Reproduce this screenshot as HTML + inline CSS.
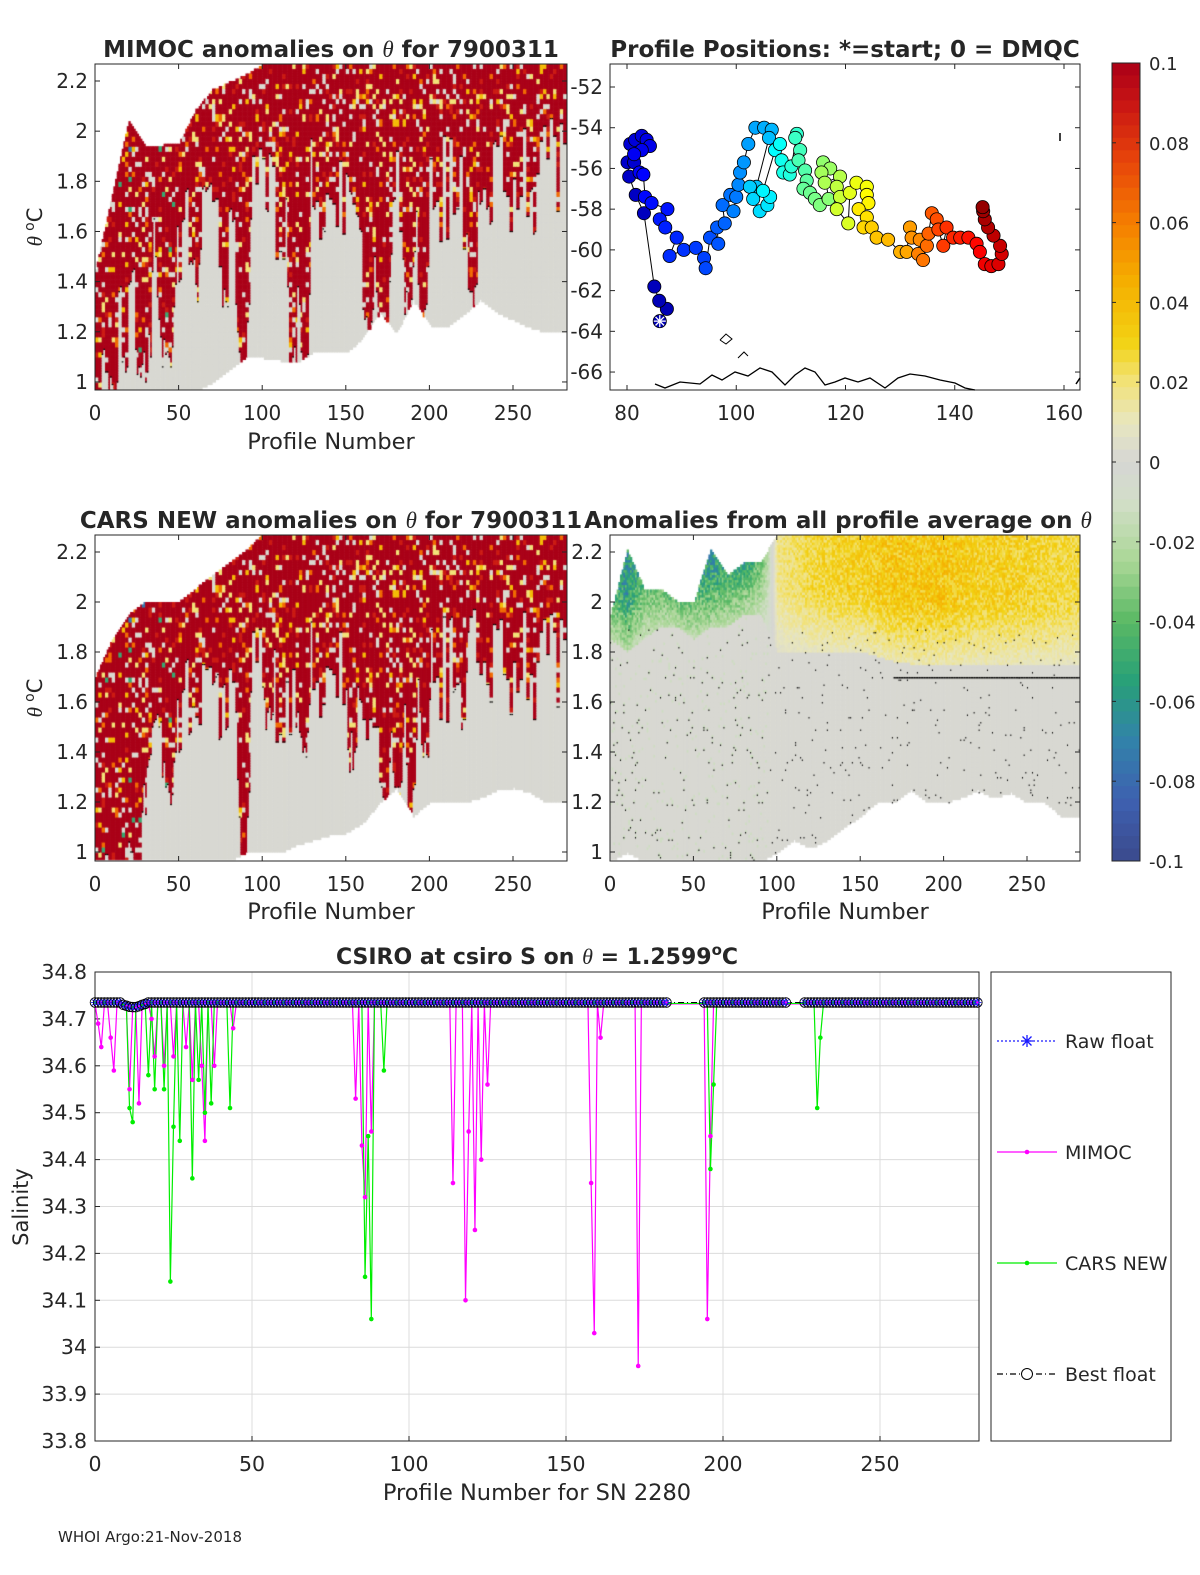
<!DOCTYPE html>
<html><head><meta charset="utf-8">
<style>
body{margin:0;background:#fff;width:1200px;height:1575px;overflow:hidden;font-family:"Liberation Sans","DejaVu Sans",sans-serif}
#wrap{position:relative;width:1200px;height:1575px}
canvas{position:absolute;left:0;top:0}
svg{position:absolute;left:0;top:0}
text{font-family:"DejaVu Sans","Liberation Sans",sans-serif;fill:#262626}
</style></head><body>
<div id="wrap">
<canvas id="heat" width="1200" height="1575"></canvas>
<svg id="svg" width="1200" height="1575"></svg>
</div>
<script>
// ---------- DATA ----------
const binProfiles=[0,10,20,30,40,50,60,70,80,90,100,110,120,130,140,150,160,170,180,190,200,210,220,230,240,250,260,270,280];
// MIMOC panel
const mimTop=[1.45,1.75,2.04,1.94,1.94,1.95,2.08,2.16,2.19,2.22,2.26,2.27,2.27,2.27,2.27,2.27,2.27,2.27,2.27,2.27,2.27,2.27,2.27,2.27,2.27,2.27,2.27,2.27,2.27];
const mimBot=[0.97,0.97,0.97,0.97,0.97,0.97,0.97,1.0,1.05,1.1,1.1,1.09,1.08,1.12,1.12,1.12,1.18,1.28,1.2,1.33,1.23,1.22,1.27,1.33,1.28,1.25,1.22,1.2,1.2];
const mimRed=[1.0,1.2,1.4,1.5,1.55,1.7,1.75,1.8,1.75,1.8,1.85,1.8,1.8,1.85,1.8,1.8,1.75,1.75,1.8,1.75,1.8,1.85,1.85,1.85,1.9,1.9,1.9,1.95,1.95];
const mimStreakStart=[6,24,36,58,76,84,115,122,160,168,184,193,222];
const mimStreakEnd=[12,34,48,62,79,92,121,128,166,176,190,199,228];
const mimStreakBottom=[1.0,1.1,1.15,1.45,1.35,1.05,1.08,1.1,1.25,1.2,1.35,1.25,1.32];
// CARS panel
const carTop=[1.7,1.85,1.95,2.0,2.0,2.0,2.05,2.1,2.15,2.2,2.27,2.27,2.27,2.27,2.27,2.27,2.27,2.27,2.27,2.27,2.27,2.27,2.27,2.27,2.27,2.27,2.27,2.27,2.27];
const carBot=[0.97,0.97,0.97,0.97,0.97,0.97,0.97,0.97,0.97,1.0,1.0,1.0,1.03,1.05,1.07,1.08,1.12,1.2,1.26,1.15,1.2,1.2,1.2,1.22,1.25,1.26,1.24,1.2,1.2];
const carRed=[1.0,1.0,1.1,1.3,1.5,1.7,1.75,1.75,1.8,1.8,1.8,1.75,1.75,1.8,1.8,1.8,1.75,1.75,1.75,1.75,1.8,1.8,1.85,1.85,1.85,1.85,1.85,1.85,1.85];
const carStreakStart=[0,40,85,100,120,150,170,178,186,195,218];
const carStreakEnd=[30,48,92,106,128,156,176,184,192,200,222];
const carStreakBottom=[1.0,1.3,0.97,1.55,1.5,1.45,1.2,1.25,1.2,1.4,1.6];
// all-profile average panel
const avgTop=[1.95,2.2,2.05,2.05,2.0,2.0,2.2,2.1,2.15,2.15,2.27,2.27,2.27,2.27,2.27,2.27,2.27,2.27,2.27,2.27,2.27,2.27,2.27,2.27,2.27,2.27,2.27,2.27,2.27];
const avgBot=[0.97,1.0,0.97,0.97,0.97,0.97,0.97,0.97,0.97,0.97,1.0,1.05,1.02,1.05,1.1,1.15,1.2,1.2,1.25,1.2,1.2,1.22,1.25,1.22,1.24,1.2,1.2,1.15,1.15];
const avgTopVal=[-0.06,-0.07,-0.05,-0.06,-0.07,-0.06,-0.07,-0.06,-0.07,-0.05,0.02,0.025,0.03,0.032,0.035,0.035,0.038,0.04,0.04,0.04,0.04,0.038,0.035,0.035,0.035,0.033,0.032,0.03,0.03];
const avgTrans=[1.85,1.8,1.85,1.9,1.9,1.85,1.9,1.9,1.95,1.95,1.8,1.8,1.8,1.8,1.8,1.8,1.78,1.76,1.75,1.75,1.75,1.75,1.75,1.75,1.75,1.75,1.75,1.75,1.75];
// map track
const trackLon=[86.0,87.3,85.9,85.0,83.1,81.6,80.4,80.1,81.3,80.6,81.5,82.7,83.6,84.2,82.7,81.3,82.3,83.0,83.3,84.5,87.4,86.0,87.0,89.1,87.8,90.4,92.6,94.1,94.4,95.2,96.7,96.5,97.9,97.5,98.9,100.0,99.5,100.4,100.7,101.4,102.2,103.5,105.1,106.5,106.0,103.7,102.5,103.1,104.3,105.7,106.2,104.9,107.1,108.0,108.3,108.6,109.8,110.1,111.1,110.8,111.7,111.4,112.6,112.9,112.3,113.5,114.4,115.3,116.9,115.9,117.2,115.6,116.2,119.0,118.4,119.0,118.4,120.5,120.8,122.0,123.9,123.9,124.2,122.4,123.9,123.3,124.8,125.7,127.8,130.0,131.2,131.8,132.1,133.6,133.3,134.2,134.9,135.2,135.8,136.7,137.0,137.9,138.5,139.7,141.0,142.5,144.0,144.6,145.5,146.7,148.0,148.6,148.3,147.1,146.1,145.5,145.2,145.1];
const trackLat=[-63.5,-62.9,-62.5,-61.8,-58.2,-57.3,-56.4,-55.7,-55.7,-54.8,-54.6,-54.4,-54.6,-54.9,-55.1,-55.3,-56.2,-56.3,-57.4,-57.7,-58.0,-58.5,-58.9,-59.4,-60.3,-60.0,-59.9,-60.4,-60.9,-59.4,-59.7,-58.9,-58.7,-57.8,-57.3,-57.4,-58.1,-56.8,-56.2,-55.7,-54.8,-54.0,-54.0,-54.1,-54.5,-56.9,-56.9,-57.5,-58.1,-57.8,-57.4,-57.1,-55.1,-54.8,-55.6,-56.2,-56.3,-55.9,-54.3,-54.5,-55.1,-55.6,-56.1,-56.6,-57.0,-57.2,-57.5,-57.8,-57.5,-55.7,-56.0,-56.2,-56.7,-56.4,-56.9,-57.4,-58.0,-58.7,-57.2,-56.7,-56.9,-57.3,-57.7,-58.0,-58.4,-58.9,-58.9,-59.4,-59.5,-60.1,-60.1,-58.9,-59.4,-59.5,-60.2,-60.5,-59.8,-59.2,-58.2,-58.5,-59.0,-59.8,-58.9,-59.4,-59.4,-59.4,-59.7,-60.1,-60.7,-60.8,-60.7,-60.2,-59.8,-59.3,-58.9,-58.5,-58.1,-57.9];
// salinity panel
const salBase=34.735;
const gapProfiles=[183,184,185,186,187,188,189,190,191,192,193,221,222,223,224,225];
const bestDipProfiles=[9,10,11,12,13,14,15,16];
const bestDipValues=[34.73,34.728,34.726,34.725,34.725,34.727,34.73,34.732];
const mimocSpikeP=[1,2,5,6,11,14,18,19,22,25,29,31,34,35,38,44,83,85,86,88,114,118,119,121,123,125,158,159,161,173,195,196];
const mimocSpikeV=[34.69,34.64,34.66,34.59,34.55,34.52,34.70,34.62,34.60,34.62,34.64,34.57,34.60,34.44,34.60,34.68,34.53,34.43,34.32,34.46,34.35,34.10,34.46,34.25,34.40,34.56,34.35,34.03,34.66,33.96,34.06,34.45];
const carsSpikeP=[11,12,17,19,22,24,25,27,31,33,35,37,43,86,87,88,92,196,197,230,231];
const carsSpikeV=[34.51,34.48,34.58,34.55,34.55,34.14,34.47,34.44,34.36,34.57,34.50,34.52,34.51,34.15,34.45,34.06,34.59,34.38,34.56,34.51,34.66];
const salTicks=[33.8,33.9,34,34.1,34.2,34.3,34.4,34.5,34.6,34.7,34.8];
const profTicks=[0,50,100,150,200,250];
const thetaTicks=[1,1.2,1.4,1.6,1.8,2,2.2];
const latTicks=[-52,-54,-56,-58,-60,-62,-64,-66];
const lonTicks=[80,100,120,140,160];
const cbTicks=[0.1,0.08,0.06,0.04,0.02,0,-0.02,-0.04,-0.06,-0.08,-0.1];

// ---------- helpers ----------
const NS='http://www.w3.org/2000/svg';
const svg=document.getElementById('svg');
function mk(tag,attrs,parent){const e=document.createElementNS(NS,tag);for(const k in attrs)e.setAttribute(k,attrs[k]);(parent||svg).appendChild(e);return e;}
function txt(x,y,s,size,anchor,extra){const t=mk('text',Object.assign({x:x,y:y,'font-size':size,'text-anchor':anchor||'middle'},extra||{}));t.textContent=s;return t;}
const cmap=[[-0.1,[59,74,140]],[-0.085,[62,96,176]],[-0.07,[50,130,170]],[-0.055,[40,160,120]],[-0.04,[90,185,100]],[-0.025,[170,215,150]],[-0.01,[210,222,200]],[0,[214,214,212]],[0.01,[232,230,190]],[0.02,[242,226,120]],[0.03,[242,210,20]],[0.045,[245,175,0]],[0.06,[245,125,0]],[0.075,[232,70,10]],[0.09,[200,20,20]],[0.1,[170,0,24]]];
function col(v){v=Math.max(-0.1,Math.min(0.1,v));for(let i=1;i<cmap.length;i++){if(v<=cmap[i][0]){const a=cmap[i-1],b=cmap[i],t=(v-a[0])/(b[0]-a[0]);return 'rgb('+a[1].map((c,k)=>Math.round(c+(b[1][k]-c)*t)).join(',')+')';}}return 'rgb(170,0,24)';}
function interp(arr,p){const f=p/10,i=Math.min(Math.floor(f),arr.length-2),t=f-i;return arr[i]+(arr[i+1]-arr[i])*t;}
function hash(i,j){let h=(i*374761393+j*668265263)>>>0;h=((h^(h>>>13))*1274126177)>>>0;return (h^(h>>>16))%100;}

const ctx=document.getElementById('heat').getContext('2d');
function axesBox(x,y,w,h,name){mk('rect',{x:x,y:y,width:w,height:h,fill:'none',stroke:'#262626','stroke-width':1});}

// ---------- anomaly heatmaps ----------
function drawAnom(L,T,W,H,sx,yOf,tops,bots,reds,sS,sE,sB){
  ctx.save();ctx.beginPath();ctx.rect(L,T,W,H);ctx.clip();
  for(let p=0;p<=281;p++){
    const top=interp(tops,p),bot=interp(bots,p);
    let red=interp(reds,p)+((hash(Math.floor(p/2),7)%20)-8)*0.012;
    for(let k=0;k<sS.length;k++){
      if(p>=sS[k]&&p<=sE[k]){const mid=(sS[k]+sE[k])/2,half=(sE[k]-sS[k])/2+1;const d=Math.abs(p-mid)/half;
        const b=sB[k]+(red-sB[k])*Math.pow(d,3)+((hash(p,11)%10)-5)*0.01;red=Math.min(red,b);}
    }
    const x0=L+p*sx;
    let prevRed=null;
    for(let th=Math.floor(bot*100)/100;th<top;th+=0.01){
      const h=hash(Math.floor(p/2),Math.floor(th*50));
      let v;
      const isRed=th>red;
      if(isRed){
        v=h<50?0.1:h<60?0.088:h<67?0.065:h<73?0.04:h<90?0.002:0.02;
        if(p<50&&h>95)v=-0.05;
        if(p<35&&th>1.9&&h>88)v=-0.075;
      }else v=0.001;
      ctx.fillStyle=col(v);
      const y1=yOf(th+0.01),y0=yOf(th);
      ctx.fillRect(x0,y1,sx+0.6,y0-y1+0.6);
      if(prevRed!==null&&isRed!==prevRed){ctx.fillStyle='#000';ctx.fillRect(x0,y0-0.6,sx+0.6,1.2);}
      prevRed=isRed;
    }
  }
  ctx.restore();
}
const y1of=th=>81+(2.2-th)*250.8;
const y3of=th=>552+(2.2-th)*250;
drawAnom(95,64,472,326,1.672,y1of,mimTop,mimBot,mimRed,mimStreakStart,mimStreakEnd,mimStreakBottom);
drawAnom(95,535,472,326,1.672,y3of,carTop,carBot,carRed,carStreakStart,carStreakEnd,carStreakBottom);
// average panel
(function(){
  const L=610,T=535,W=470,H=326,sx=1.668;
  ctx.save();ctx.beginPath();ctx.rect(L,T,W,H);ctx.clip();
  for(let p=0;p<=281;p++){
    const top=interp(avgTop,p),bot=interp(avgBot,p),tv=interp(avgTopVal,p),tr=interp(avgTrans,p);
    for(let th=Math.floor(bot*100)/100;th<top;th+=0.01){
      const h=hash(p,Math.round(th*100));
      let v=0.001;
      if(th>tr){const f=Math.min(1,(th-tr)/0.25);v=tv*(0.35+0.65*f)*(0.85+h*0.003);}
      else if(p<95&&h>90)v=-0.012;
      ctx.fillStyle=col(v);
      const y1=y3of(th+0.01),y0=y3of(th);
      ctx.fillRect(L+p*sx,y1,sx+0.6,y0-y1+0.6);
      if(h>95&&th<1.9){ctx.fillStyle='#000';ctx.fillRect(L+p*sx,y0,1,1.5);}
    }
  }
  ctx.fillStyle='#000';
  for(let p=170;p<=281;p++){ctx.fillRect(L+p*sx,y3of(1.7),sx,1.5);}
  ctx.restore();
})();

function heatAxes(L,T,W,H,sx,yOf,prefix){
  axesBox(L,T,W,H,prefix+'-axes');
  profTicks.forEach(p=>{const x=L+p*sx;mk('line',{x1:x,y1:T+H,x2:x,y2:T+H-5,stroke:'#262626'});mk('line',{x1:x,y1:T,x2:x,y2:T+5,stroke:'#262626'});
    const t=txt(x,T+H+30,String(p),20);});
  thetaTicks.forEach(th=>{const y=yOf(th);mk('line',{x1:L,y1:y,x2:L+5,y2:y,stroke:'#262626'});mk('line',{x1:L+W,y1:y,x2:L+W-5,y2:y,stroke:'#262626'});
    const t=txt(L-7,y+7,String(th),20,'end');});
}
heatAxes(95,64,472,326,1.672,y1of,'mimoc');
heatAxes(95,535,472,326,1.672,y3of,'cars');
heatAxes(610,535,470,326,1.668,y3of,'average');

function label(x,y,s,size,name,extra){const t=txt(x,y,s,size,'middle',extra);return t;}
function titleTheta(x,y,pre,post,name){const t=mk('text',{x:x,y:y,'font-size':23,'text-anchor':'middle','font-weight':'bold'});
  const a=mk('tspan',{},t);a.textContent=pre;const b=mk('tspan',{'font-style':'italic','font-weight':'normal','font-family':'Liberation Serif,serif'},t);b.textContent='θ';const c=mk('tspan',{},t);c.textContent=post;}
titleTheta(331,57,'MIMOC anomalies on ','  for 7900311','mimoc-title');
label(845,57,'Profile Positions: *=start; 0 = DMQC',23,'map-title',{'font-weight':'bold'});
titleTheta(331,528,'CARS NEW anomalies on ',' for 7900311','cars-title');
titleTheta(838,528,'Anomalies from all profile average on ','','average-title');
label(331,449,'Profile Number',22.5,'mimoc-x-axis-title');
label(331,919,'Profile Number',22.5,'cars-x-axis-title');
label(845,919,'Profile Number',22.5,'average-x-axis-title');
[[227,'mimoc-y-axis-title'],[698,'cars-y-axis-title']].forEach(([cy,n])=>{const t=mk('text',{x:0,y:0,'font-size':21,'text-anchor':'middle',transform:'translate(42,'+cy+') rotate(-90)'});
  const a=mk('tspan',{'font-style':'italic','font-family':'Liberation Serif,serif'},t);a.textContent='θ ';const b=mk('tspan',{dy:-8,'font-size':14},t);b.textContent='o';const c=mk('tspan',{dy:8},t);c.textContent='C';});

// ---------- map ----------
(function(){
  const L=610,T=64,W=470,H=326;
  const xOf=lon=>627+(lon-80)*5.4625, yOf=lat=>87+(-52-lat)*20.36;
  axesBox(L,T,W,H,'map-axes');
  lonTicks.forEach(v=>{const x=xOf(v);mk('line',{x1:x,y1:T+H,x2:x,y2:T+H-5,stroke:'#262626'});mk('line',{x1:x,y1:T,x2:x,y2:T+5,stroke:'#262626'});
    const t=txt(x,T+H+30,String(v),20);});
  latTicks.forEach(v=>{const y=yOf(v);mk('line',{x1:L,y1:y,x2:L+5,y2:y,stroke:'#262626'});mk('line',{x1:L+W,y1:y,x2:L+W-5,y2:y,stroke:'#262626'});
    const t=txt(L-7,y+7,String(v),20,'end');});
  const coast=mk('polyline',{points:'655,384 665,388 680,382 700,384 712,375 722,380 735,372 748,376 760,368 772,372 785,385 795,375 805,368 815,372 825,385 835,382 845,378 858,382 870,378 885,388 898,378 910,374 925,376 940,380 955,383 965,388 975,390',fill:'none',stroke:'#000','stroke-width':1.3});
  
  mk('polyline',{points:'720,340 726,334 732,339 726,344 720,340',fill:'none',stroke:'#000','stroke-width':1});
  mk('polyline',{points:'738,358 744,352 748,356',fill:'none',stroke:'#000','stroke-width':1});
  mk('line',{x1:1060,y1:133,x2:1060,y2:141,stroke:'#000','stroke-width':1.5});
  mk('polyline',{points:'1076,384 1080,378',fill:'none',stroke:'#000','stroke-width':1.5});
  const pts=trackLon.map((lo,i)=>xOf(lo)+','+yOf(trackLat[i])).join(' ');
  const tl=mk('polyline',{points:pts,fill:'none',stroke:'#000','stroke-width':1});
  
  const n=trackLon.length;
  const jet=f=>{const r=Math.max(0,Math.min(1,1.5-Math.abs(4*f-3))),g=Math.max(0,Math.min(1,1.5-Math.abs(4*f-2))),b=Math.max(0,Math.min(1,1.5-Math.abs(4*f-1)));return 'rgb('+Math.round(r*255)+','+Math.round(g*255)+','+Math.round(b*255)+')';};
  for(let i=0;i<n;i++){
    const f=0.05+0.93*Math.pow(i/(n-1),1.3);
    const c=mk('circle',{cx:xOf(trackLon[i]),cy:yOf(trackLat[i]),r:6.6,fill:jet(f),stroke:'#000','stroke-width':0.8});
    
    
  }
  const sx=xOf(trackLon[0]),sy=yOf(trackLat[0]);
  [0,45,90,135].forEach(a=>{const r=a*Math.PI/180;mk('line',{x1:sx-6*Math.cos(r),y1:sy-6*Math.sin(r),x2:sx+6*Math.cos(r),y2:sy+6*Math.sin(r),stroke:'#fff','stroke-width':1.3});});
})();

// ---------- colorbar ----------
(function(){
  const L=1112,T=63,W=28,H=798;
  for(let i=0;i<64;i++){const v=0.1-0.2*(i+0.5)/64;mk('rect',{x:L,y:T+i*H/64,width:W,height:H/64+0.5,fill:col(v)});}
  axesBox(L,T,W,H,'colorbar');
  cbTicks.forEach(v=>{const y=T+(0.1-v)/0.2*H;mk('line',{x1:L+W,y1:y,x2:L+W-4,y2:y,stroke:'#262626'});mk('line',{x1:L,y1:y,x2:L+4,y2:y,stroke:'#262626'});
    const t=txt(L+W+9,y+7,String(v),18,'start');});
})();

// ---------- salinity plot ----------
(function(){
  const L=95,T=972,W=884,H=469;
  const xOf=p=>L+p*3.14, yOf=s=>T+(34.8-s)*469;
  salTicks.forEach(s=>{const y=yOf(s);mk('line',{x1:L,y1:y,x2:L+W,y2:y,stroke:'#dcdcdc'});mk('line',{x1:L,y1:y,x2:L+5,y2:y,stroke:'#262626'});
    const t=txt(L-8,y+7,String(s),20.5,'end');});
  profTicks.forEach(p=>{const x=xOf(p);mk('line',{x1:x,y1:T,x2:x,y2:T+H,stroke:'#dcdcdc'});mk('line',{x1:x,y1:T+H,x2:x,y2:T+H-5,stroke:'#262626'});
    const t=txt(x,T+H+30,String(p),20.5);});
  axesBox(L,T,W,H,'salinity-axes');
  const profs=[];for(let p=0;p<=281;p++)if(!gapProfiles.includes(p))profs.push(p);
  const best=profs.map(p=>{const k=bestDipProfiles.indexOf(p);return k>=0?bestDipValues[k]:salBase;});
  const mim=profs.map((p,i)=>{const k=mimocSpikeP.indexOf(p);return k>=0?mimocSpikeV[k]:best[i]-0.003;});
  const car=profs.map((p,i)=>{const k=carsSpikeP.indexOf(p);return k>=0?carsSpikeV[k]:best[i]-0.002;});
  const line=(vals,color,w,name,dash)=>{const e=mk('polyline',{points:profs.map((p,i)=>xOf(p)+','+yOf(vals[i])).join(' '),fill:'none',stroke:color,'stroke-width':w});if(dash)e.setAttribute('stroke-dasharray',dash);};
  line(mim,'#ff00ff',1.2,'mimoc-line');
  line(car,'#00ee00',1.2,'cars-line');
  profs.forEach((p,i)=>{
    const k1=mimocSpikeP.indexOf(p);if(k1>=0){const c=mk('circle',{cx:xOf(p),cy:yOf(mimocSpikeV[k1]),r:2.3,fill:'#ff00ff'});}
    const k2=carsSpikeP.indexOf(p);if(k2>=0){const c=mk('circle',{cx:xOf(p),cy:yOf(carsSpikeV[k2]),r:2.3,fill:'#00ee00'});}
  });
  line(best,'#000',1,'best-float-line','6,3,1,3');
  profs.forEach((p,i)=>{
    const x=xOf(p),y=yOf(best[i]);
    const c=mk('circle',{cx:x,cy:y,r:4.8,fill:'none',stroke:'#000','stroke-width':0.9});
    
    
    const s=mk('path',{d:'M'+(x-4)+' '+y+'h8M'+x+' '+(y-4)+'v8M'+(x-3)+' '+(y-3)+'l6 6M'+(x-3)+' '+(y+3)+'l6 -6',stroke:'#1a1aff','stroke-width':0.9});
    
    
    const m=mk('circle',{cx:x,cy:y,r:1.2,fill:(i%3==0)?'#00ee00':'#ff00ff'});
    
    
  });
  const t=mk('text',{x:537,y:964,'font-size':22,'text-anchor':'middle','font-weight':'bold'});
  const a=mk('tspan',{},t);a.textContent='CSIRO at csiro S on ';const b=mk('tspan',{'font-style':'italic','font-weight':'normal','font-family':'Liberation Serif,serif'},t);b.textContent='θ';const c=mk('tspan',{},t);c.textContent=' = 1.2599';const d=mk('tspan',{dy:-9,'font-size':15},t);d.textContent='o';const e=mk('tspan',{dy:9},t);e.textContent='C';
  label(537,1500,'Profile Number for SN 2280',22.5,'salinity-x-axis-title');
  const yl=mk('text',{x:0,y:0,'font-size':21,'text-anchor':'middle',transform:'translate(28,1207) rotate(-90)'});yl.textContent='Salinity';
  const lg=mk('g',{});
  mk('rect',{x:991,y:972,width:180,height:469,fill:'#fff',stroke:'#262626'},lg);
  const ents=[[1041,'Raw float','#1a1aff','2,2','star'],[1152,'MIMOC','#ff00ff',null,'dot'],[1263,'CARS NEW','#00ee00',null,'dot'],[1374,'Best float','#000','6,3,1,3','circ']];
  ents.forEach(([y,s,c,dash,m])=>{const g=mk('g',{},lg);
    const ln=mk('line',{x1:997,y1:y,x2:1057,y2:y,stroke:c,'stroke-width':1.2},g);if(dash)ln.setAttribute('stroke-dasharray',dash);
    if(m=='dot')mk('circle',{cx:1027,cy:y,r:2.3,fill:c},g);
    if(m=='circ')mk('circle',{cx:1027,cy:y,r:5.5,fill:'#fff',stroke:'#000'},g);
    if(m=='star')mk('path',{d:'M1021 '+y+'h12M1027 '+(y-6)+'v12M1022.5 '+(y-4.5)+'l9 9M1022.5 '+(y+4.5)+'l9 -9',stroke:c,'stroke-width':1.3},g);
    const tt=txt(1065,y+7,s,19,'start');g.appendChild(tt);});
})();
label(150,1542,'WHOI Argo:21-Nov-2018',15,'footer-credit');
</script>
</body></html>
